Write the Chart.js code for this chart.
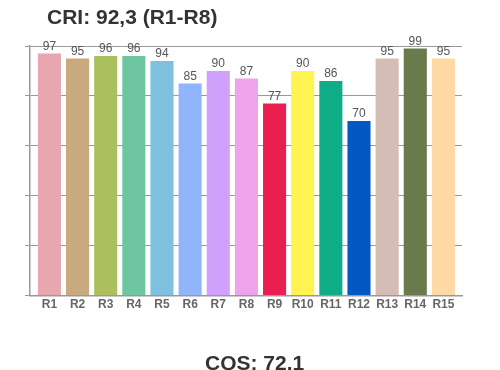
<!DOCTYPE html>
<html>
<head>
<meta charset="utf-8">
<script src="https://cdn.jsdelivr.net/npm/chart.js@4"></script>
<style>
  html, body { margin: 0; padding: 0; background: #fff; }
  #wrap { position: relative; width: 500px; height: 370px; overflow: hidden; }
  canvas { position: absolute; left: 0; top: 0; }
  .title {
    position: absolute;
    font-family: "Liberation Sans", Arial, sans-serif;
    font-weight: bold;
    font-size: 21px;
    color: #333;
    white-space: nowrap;
  }
  #criTitle { left: 47px; top: 5px; }
  #cqsTitle { left: 205px; top: 351px; }
</style>
</head>
<body>
<div id="wrap">
  <canvas id="criChart" width="500" height="370"></canvas>
  <div class="title" id="criTitle">CRI: 92,3 (R1-R8)</div>
  <div class="title" id="cqsTitle">CQS: 72.1</div>
</div>
<script>
const labels = ["R1", "R2", "R3", "R4", "R5", "R6", "R7", "R8", "R9", "R10", "R11", "R12", "R13", "R14", "R15"];
const values = [97, 95, 96, 96, 94, 85, 90, 87, 77, 90, 86, 70, 95, 99, 95];
const barColors = [
  "#e8a6ae", "#c9a97e", "#abbf5e", "#6dc6a0", "#7ec1df",
  "#91b5fb", "#cfa1fd", "#eda4ea", "#eb1f4f", "#fef350",
  "#0fad87", "#0358c4", "#d5bdb6", "#6a7a4c", "#fed9a6"
];

// bars sit on a numeric x axis (1..15) so there's a little gap next to the axes
const points = values.map((v, i) => ({ x: i + 1, y: v }));

// draws the value above each bar
const valueLabels = {
  id: "valueLabels",
  afterDatasetsDraw(chart) {
    const ctx = chart.ctx;
    const meta = chart.getDatasetMeta(0);
    ctx.save();
    ctx.font = "12px 'Liberation Sans', Arial, sans-serif";
    ctx.fillStyle = "#555";
    ctx.textAlign = "center";
    ctx.textBaseline = "bottom";
    meta.data.forEach((bar, i) => {
      ctx.fillText(values[i], bar.x, bar.y - 1);
    });
    ctx.restore();
  }
};

new Chart(document.getElementById("criChart").getContext("2d"), {
  type: "bar",
  data: {
    datasets: [
      {
        data: points,
        backgroundColor: barColors,
        barPercentage: 0.82,
        categoryPercentage: 1.0
      }
    ]
  },
  options: {
    responsive: false,
    animation: false,
    layout: { padding: { left: 25, right: 38, top: 46, bottom: 56 } },
    plugins: {
      legend: { display: false },
      tooltip: { enabled: false }
    },
    scales: {
      x: {
        type: "linear",
        offset: false,
        min: 0.31,
        max: 15.66,
        afterBuildTicks: (axis) => {
          axis.ticks = labels.map((l, i) => ({ value: i + 1 }));
        },
        grid: { display: false, drawTicks: false },
        border: { display: true, color: "#999", width: 1.5 },
        ticks: {
          color: "#666",
          font: { family: "'Liberation Sans', Arial, sans-serif", size: 12, weight: "bold" },
          padding: 2,
          maxRotation: 0,
          autoSkip: false,
          callback: (value) => labels[Math.round(value) - 1]
        }
      },
      y: {
        min: 0,
        max: 100,
        grid: { color: "#999", lineWidth: 1, drawTicks: true, tickLength: 5 },
        border: { display: true, color: "#999", width: 1.5 },
        ticks: { display: false, stepSize: 20 }
      }
    }
  },
  plugins: [valueLabels]
});
</script>
</body>
</html>
